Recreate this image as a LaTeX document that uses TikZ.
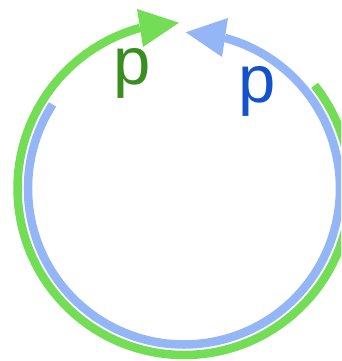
\documentclass[tikz,border=0pt]{standalone}
\usepackage{fontspec}
\setmainfont{Liberation Sans}
\definecolor{garc}{RGB}{114,221,85}
\definecolor{barc}{RGB}{148,182,246}
\definecolor{gtxt}{RGB}{56,142,30}
\definecolor{btxt}{RGB}{20,82,204}
\begin{document}
\begin{tikzpicture}[x=1pt,y=1pt,
  arcline/.style={line width=8.5pt,line cap=butt},
  lbl/.style={font=\fontsize{67}{67}\selectfont,inner sep=0pt,anchor=base}]
\useasboundingbox (0,0) rectangle (341,361);
\clip (0,0) rectangle (341,361);
\coordinate (c) at (184,172.5);
% green arc (outer), clockwise
\draw[arcline,garc] (c) ++(38.3:166.5) arc[start angle=38.3, end angle=-254.7, radius=166.5];
\fill[garc] (179,338.3) -- (137,352) -- (143,314) -- cycle;
% blue arc (inner), counterclockwise
\draw[arcline,barc] (c) ++(147.4:156) arc[start angle=147.4, end angle=434.8, radius=156];
\fill[barc] (185.7,328.7) -- (228,343) -- (222,304) -- cycle;
% labels
\node[lbl,text=gtxt] (pg) at (132,276.2) {p};
\node[lbl,text=btxt] (pb) at (257.5,258.2) {p};
\end{tikzpicture}
\end{document}
